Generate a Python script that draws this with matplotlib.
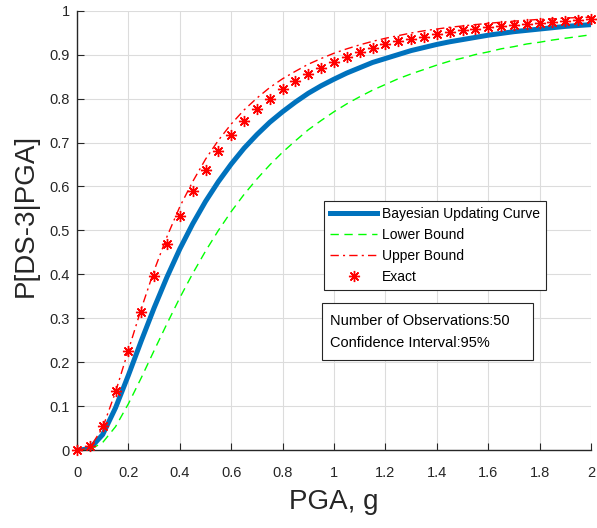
import matplotlib
matplotlib.use("Agg")
import matplotlib.pyplot as plt
from matplotlib.patches import Rectangle

plt.rcParams['font.family'] = ['Liberation Sans', 'DejaVu Sans']

# ---- data ----
pga = [0.00, 0.05, 0.10, 0.15, 0.20, 0.25, 0.30, 0.35, 0.40, 0.45, 0.50,
       0.55, 0.60, 0.65, 0.70, 0.75, 0.80, 0.85, 0.90, 0.95, 1.00,
       1.05, 1.10, 1.15, 1.20, 1.25, 1.30, 1.35, 1.40, 1.45, 1.50,
       1.55, 1.60, 1.65, 1.70, 1.75, 1.80, 1.85, 1.90, 1.95, 2.00]

bayes = [0.000, 0.004, 0.036, 0.097, 0.171, 0.249, 0.324, 0.394, 0.458, 0.515, 0.566,
         0.611, 0.651, 0.687, 0.718, 0.746, 0.770, 0.792, 0.812, 0.829, 0.844,
         0.858, 0.870, 0.882, 0.891, 0.900, 0.909, 0.916, 0.923, 0.929, 0.934,
         0.939, 0.944, 0.948, 0.952, 0.955, 0.958, 0.961, 0.964, 0.966, 0.968]

lower = [0.000, 0.0015, 0.018, 0.054, 0.106, 0.165, 0.227, 0.288, 0.347, 0.402, 0.453,
         0.500, 0.543, 0.582, 0.617, 0.649, 0.678, 0.704, 0.729, 0.750, 0.770,
         0.788, 0.804, 0.819, 0.832, 0.845, 0.856, 0.866, 0.876, 0.885, 0.892,
         0.900, 0.906, 0.913, 0.918, 0.924, 0.928, 0.933, 0.937, 0.941, 0.945]

upper = [0.000, 0.006, 0.052, 0.133, 0.228, 0.322, 0.409, 0.486, 0.554, 0.611, 0.662,
         0.705, 0.742, 0.774, 0.801, 0.825, 0.845, 0.862, 0.878, 0.891, 0.903,
         0.913, 0.922, 0.930, 0.937, 0.943, 0.949, 0.954, 0.958, 0.962, 0.965,
         0.968, 0.971, 0.9735, 0.976, 0.978, 0.980, 0.981, 0.983, 0.984, 0.985]

exact = [0.000, 0.009, 0.056, 0.136, 0.226, 0.315, 0.396, 0.469, 0.534, 0.589, 0.638,
         0.680, 0.716, 0.748, 0.776, 0.800, 0.821, 0.839, 0.856, 0.870, 0.883,
         0.894, 0.905, 0.914, 0.923, 0.930, 0.936, 0.941, 0.946, 0.951, 0.955,
         0.958, 0.962, 0.965, 0.968, 0.970, 0.972, 0.974, 0.976, 0.978, 0.980]

xticks = [0, 0.2, 0.4, 0.6, 0.8, 1.0, 1.2, 1.4, 1.6, 1.8, 2.0]
xticklabels = ['0', '0.2', '0.4', '0.6', '0.8', '1', '1.2', '1.4', '1.6', '1.8', '2']
yticks = [0, 0.1, 0.2, 0.3, 0.4, 0.5, 0.6, 0.7, 0.8, 0.9, 1.0]
yticklabels = ['0', '0.1', '0.2', '0.3', '0.4', '0.5', '0.6', '0.7', '0.8', '0.9', '1']

labels = ['Bayesian Updating Curve', 'Lower Bound', 'Upper Bound', 'Exact']
info_lines = ['Number of Observations:50', 'Confidence Interval:95%']

# ---- figure ----
fig = plt.figure(figsize=(5.97, 5.28), dpi=100)
ax = fig.add_axes([0.129, 0.147, 0.861, 0.833])

ax.plot(pga, bayes, color='#0072BD', lw=3.6, label=labels[0], zorder=3)
ax.plot(pga, lower, color='#00FF00', lw=1.0, ls=(0, (6, 4)), label=labels[1], zorder=3)
ax.plot(pga, upper, color='#FF0000', lw=1.0, ls=(0, (6, 3, 1.5, 3)), label=labels[2], zorder=3)
ax.plot(pga, exact, ls='none', marker=(8, 2, 0), color='#FF0000', mec='#FF0000',
        ms=8, mew=1.0, label=labels[3], zorder=4, clip_on=False)

ax.set_xlim(0, 2)
ax.set_ylim(0, 1)
ax.set_xticks(xticks)
ax.set_xticklabels(xticklabels)
ax.set_yticks(yticks)
ax.set_yticklabels(yticklabels)

ax.grid(True, color='#dcdcdc', lw=0.8)
ax.set_axisbelow(True)
for s in ['top', 'right']:
    ax.spines[s].set_visible(False)
for s in ['left', 'bottom']:
    ax.spines[s].set_color('#262626')
    ax.spines[s].set_linewidth(1.0)
ax.tick_params(direction='in', length=5, width=0.8, colors='#262626',
               labelsize=10.5)
ax.tick_params(axis='y', pad=5)
ax.tick_params(axis='x', pad=11.5)

ax.set_xlabel('PGA, g', fontsize=20, color='#262626', labelpad=6)
ax.set_ylabel('P[DS-3|PGA]', fontsize=20, color='#262626')
ax.yaxis.set_label_coords(-0.074, 0.535)

leg = ax.legend(loc='upper left', bbox_to_anchor=(0.4805, 0.568), borderaxespad=0,
                fontsize=10, frameon=True, fancybox=False, edgecolor='#262626',
                framealpha=1, handlelength=3.4, handletextpad=0.3, labelspacing=0.5,
                borderpad=0.45)
leg.get_frame().set_linewidth(0.8)

ax.add_patch(Rectangle((0.476, 0.2058), 0.4105, 0.1296, transform=ax.transAxes,
                       facecolor='white', edgecolor='#262626', lw=0.8, zorder=5))
ax.text(0.492, 0.295, info_lines[0], transform=ax.transAxes, fontsize=10.5,
        va='center', ha='left', color='#000000', zorder=6)
ax.text(0.492, 0.245, info_lines[1], transform=ax.transAxes, fontsize=10.5,
        va='center', ha='left', color='#000000', zorder=6)

fig.savefig('out.png', dpi=100)
